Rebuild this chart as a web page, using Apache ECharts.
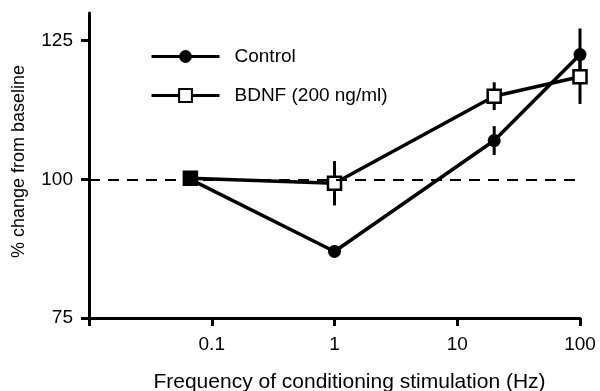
<!DOCTYPE html>
<html>
<head>
<meta charset="utf-8">
<script src="https://cdn.jsdelivr.net/npm/echarts@6/dist/echarts.min.js"></script>
<style>
  html, body { margin: 0; padding: 0; background: #fff; }
  #chart { width: 600px; height: 391px; }
</style>
</head>
<body>
<div id="chart"></div>
<script>
// stimulation frequencies (Hz)
const freqs = [0.067, 1, 20, 100];
// % change from baseline, mean and error (half-length of bar)
const controlMean = [100, 87, 107, 122.5];
const controlErr = [1.2, 1, 2.6, 4.7];
const bdnfMean = [100.2, 99.3, 115, 118.5];
const bdnfErr = [1, 4, 2.5, 4.9];
const yTicks = [75, 100, 125];
const seriesNames = ['Control', 'BDNF (200 ng/ml)'];

const font = '"Liberation Sans", Arial, Helvetica, sans-serif';
const chart = echarts.init(document.getElementById('chart'));

const toPoints = (means) => freqs.map((f, i) => [f, means[i]]);
const toBars = (means, errs) => freqs.map((f, i) => [f, means[i] - errs[i], means[i] + errs[i]]);

const errorBarSeries = (data) => ({
  type: 'custom',
  data: data,
  z: 1,
  silent: true,
  encode: { x: 0, y: [1, 2] },
  renderItem: (params, api) => {
    const lo = api.coord([api.value(0), api.value(1)]);
    const hi = api.coord([api.value(0), api.value(2)]);
    return {
      type: 'line',
      shape: { x1: lo[0], y1: lo[1], x2: hi[0], y2: hi[1] },
      style: { stroke: '#000', lineWidth: 3 }
    };
  }
});

// the first BDNF square sits under the control circle and reads as solid black
const bdnfData = toPoints(bdnfMean).map((p, i) =>
  i === 0 ? { value: p, itemStyle: { color: '#000' } } : p
);

const option = {
  animation: false,
  backgroundColor: '#fff',
  grid: { left: 89, right: 20, top: 13, bottom: 73, outerBoundsMode: 'none', containLabel: false },
  legend: {
    orient: 'vertical',
    left: 150,
    top: 47,
    padding: 0,
    itemWidth: 68,
    itemHeight: 16,
    itemGap: 20,
    data: seriesNames,
    lineStyle: { width: 3, color: '#000' },
    textStyle: { fontFamily: font, fontSize: 19, color: '#000', padding: [0, 0, 0, 10] }
  },
  xAxis: {
    type: 'log',
    logBase: 10,
    min: 0.01,
    max: 100,
    axisLine: { lineStyle: { color: '#000', width: 3 } },
    axisTick: { length: 8, lineStyle: { color: '#000', width: 3 } },
    splitLine: { show: false },
    minorTick: { show: false },
    axisLabel: {
      margin: 17,
      fontFamily: font,
      fontSize: 19,
      color: '#000',
      formatter: (v) => (v < 0.05 ? '' : String(+Number(v).toPrecision(3)))
    },
    name: 'Frequency of conditioning stimulation (Hz)',
    nameLocation: 'middle',
    nameGap: 54,
    nameTextStyle: { fontFamily: font, fontSize: 21, color: '#000', padding: [0, 0, 0, 30] }
  },
  yAxis: {
    type: 'value',
    min: 75,
    max: 130,
    axisLine: { show: true, lineStyle: { color: '#000', width: 3 } },
    axisTick: { show: true, length: 8, customValues: yTicks, lineStyle: { color: '#000', width: 3 } },
    axisLabel: { margin: 16, customValues: yTicks, fontFamily: font, fontSize: 19, color: '#000' },
    splitLine: { show: false },
    name: '% change from baseline',
    nameLocation: 'middle',
    nameRotate: 90,
    nameGap: 61,
    nameTextStyle: { fontFamily: font, fontSize: 18, color: '#000', padding: [0, 0, 0, 8] }
  },
  series: [
    errorBarSeries(toBars(controlMean, controlErr)),
    errorBarSeries(toBars(bdnfMean, bdnfErr)),
    {
      name: seriesNames[1],
      type: 'line',
      z: 2,
      data: bdnfData,
      symbol: 'rect',
      symbolSize: 13,
      lineStyle: { color: '#000', width: 3.5 },
      itemStyle: { color: '#fff', borderColor: '#000', borderWidth: 2.5 },
      markLine: {
        silent: true,
        symbol: 'none',
        label: { show: false },
        lineStyle: { color: '#000', width: 2, type: [11, 8] },
        data: [{ yAxis: 100 }]
      }
    },
    {
      name: seriesNames[0],
      type: 'line',
      z: 3,
      data: toPoints(controlMean),
      symbol: 'circle',
      symbolSize: 13,
      lineStyle: { color: '#000', width: 3.5 },
      itemStyle: { color: '#000', borderColor: '#000', borderWidth: 0 }
    }
  ]
};

chart.setOption(option);
</script>
</body>
</html>
